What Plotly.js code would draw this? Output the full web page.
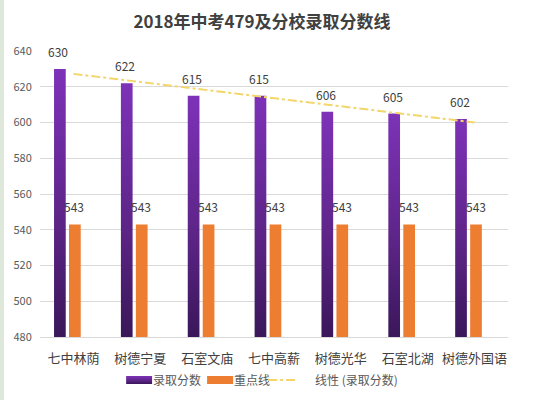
<!DOCTYPE html>
<html>
<head>
<meta charset="utf-8">
<script src="https://cdn.plot.ly/plotly-3.0.1.min.js"></script>
<style>
  html, body { margin: 0; padding: 0; background: #ffffff; }
  #chart { width: 538px; height: 400px; }
  #strip { position: absolute; left: 0; top: 0; width: 4px; height: 400px; background: #dde8da; }
</style>
</head>
<body>
<div id="chart"></div>
<div id="strip"></div>
<script>
const categories = ['七中林荫', '树德宁夏', '石室文庙', '七中高薪', '树德光华', '石室北湖', '树德外国语'];
const admissionScores = [630, 622, 615, 615, 606, 605, 602];
const keyLine = [543, 543, 543, 543, 543, 543, 543];
const trendValues = [627.2, 622.6, 618.1, 613.6, 609.0, 604.5, 600.0];
const yTicks = [480, 500, 520, 540, 560, 580, 600, 620, 640];

const seriesNames = ['录取分数', '重点线', '线性 (录取分数)'];
const labelFont = { family: 'Noto Sans CJK SC, sans-serif', size: 12, color: '#404040' };

const traces = [
  {
    type: 'bar', name: seriesNames[0], x: categories, y: admissionScores.map(v => v - 480), base: 480,
    width: 0.175, offset: -0.29,
    marker: { color: '#6a2a9a', line: { width: 0 } },
    hoverinfo: 'skip'
  },
  {
    type: 'bar', name: seriesNames[1], x: categories, y: keyLine.map(v => v - 480), base: 480,
    width: 0.175, offset: -0.066,
    marker: { color: '#ed7d31', line: { width: 0 } },
    hoverinfo: 'skip'
  },
  {
    type: 'scatter', mode: 'lines', name: seriesNames[2], x: categories, y: trendValues,
    line: { color: '#f3d56a', width: 2, dash: 'dashdot' },
    hoverinfo: 'skip'
  }
];

const annotations = [];
categories.forEach((c, i) => {
  annotations.push({
    x: c, y: admissionScores[i], xref: 'x', yref: 'y', text: String(admissionScores[i]),
    showarrow: false, yanchor: 'bottom', yshift: 7, xshift: -15, font: labelFont
  });
  annotations.push({
    x: c, y: keyLine[i], xref: 'x', yref: 'y', text: String(keyLine[i]),
    showarrow: false, yanchor: 'bottom', yshift: 7, xshift: 1, font: labelFont
  });
});

const layout = {
  width: 538, height: 400,
  margin: { l: 40, r: 30, t: 51, b: 63, autoexpand: false },
  paper_bgcolor: '#ffffff', plot_bgcolor: '#ffffff',
  title: {
    text: '<b>2018年中考479及分校录取分数线</b>',
    font: { family: 'Noto Sans CJK SC, sans-serif', size: 17, color: '#404040' },
    x: 0.487, xref: 'container', xanchor: 'center',
    y: 0.945, yref: 'container', yanchor: 'middle'
  },
  barmode: 'overlay',
  xaxis: {
    type: 'category', categoryorder: 'array', categoryarray: categories,
    showgrid: false, zeroline: false,
    showline: true, linecolor: '#d9d9d9', linewidth: 1,
    ticks: 'outside', ticklen: 9, tickcolor: 'rgba(0,0,0,0)',
    tickfont: { family: 'Noto Sans CJK SC, sans-serif', size: 13, color: '#404040' }
  },
  yaxis: {
    range: [480, 640], tickmode: 'array', tickvals: yTicks, ticktext: yTicks.map(String),
    showgrid: true, gridcolor: '#d9d9d9', gridwidth: 1, zeroline: false, showline: false,
    ticks: 'outside', ticklen: 5, tickcolor: 'rgba(0,0,0,0)',
    tickfont: { family: 'Noto Sans CJK SC, sans-serif', size: 11, color: '#595959' }
  },
  showlegend: true,
  legend: {
    orientation: 'h', x: 0.487, xref: 'container', xanchor: 'center',
    y: 0.05, yref: 'container', yanchor: 'middle',
    font: { family: 'Noto Sans CJK SC, sans-serif', size: 12, color: '#595959' },
    itemwidth: 30, tracegroupgap: 0
  },
  annotations: annotations
};

Plotly.newPlot('chart', traces, layout, { displayModeBar: false, staticPlot: true }).then(gd => {
  const svgNS = 'http://www.w3.org/2000/svg';
  const svg = gd.querySelector('svg.main-svg');
  let defs = svg.querySelector('defs');
  if (!defs) { defs = document.createElementNS(svgNS, 'defs'); svg.insertBefore(defs, svg.firstChild); }
  const grad = document.createElementNS(svgNS, 'linearGradient');
  grad.setAttribute('id', 'purpleGrad');
  grad.setAttribute('x1', '0'); grad.setAttribute('y1', '0');
  grad.setAttribute('x2', '0'); grad.setAttribute('y2', '1');
  [['0%', '#7d32b8'], ['55%', '#5e2589'], ['100%', '#3a175a']].forEach(([o, c]) => {
    const s = document.createElementNS(svgNS, 'stop');
    s.setAttribute('offset', o); s.setAttribute('stop-color', c);
    grad.appendChild(s);
  });
  defs.appendChild(grad);
  const barTraces = gd.querySelectorAll('.barlayer .trace');
  if (barTraces[0]) barTraces[0].querySelectorAll('path').forEach(p => { p.style.fill = 'url(#purpleGrad)'; });

  // Legend: Excel-like wide swatches, tightly packed entries, centred under the title.
  const legend = gd.querySelector('.legend');
  const items = gd.querySelectorAll('.legend .traces');
  const gaps = [6, 6, 0];
  let x = 0;
  const yPos = [];
  items.forEach((item, idx) => {
    const tr = item.getAttribute('transform') || '';
    const m = tr.match(/translate\(\s*([-\d.]+)[ ,]+([-\d.]+)/);
    yPos.push(m ? parseFloat(m[2]) : 0);
  });
  items.forEach((item, idx) => {
    if (idx < 2) {
      item.querySelectorAll('.legendpoints path').forEach(p => {
        p.setAttribute('d', 'M19,4H-7V-4H19Z');
        if (idx === 0) p.style.fill = 'url(#purpleGrad)';
      });
    }
    const txt = item.querySelector('text.legendtext');
    const tw = txt ? txt.getBBox().width : 40;
    item.setAttribute('transform', 'translate(' + (x - 13) + ',' + yPos[idx] + ')');
    const w = (idx < 2 ? 27 : 40) + tw;
    if (idx === 2) {
      if (txt) txt.setAttribute('x', 52);
    }
    x += w + gaps[idx];
  });
  const total = x - 13 + 12;
  const ltr = legend.getAttribute('transform') || '';
  const lm = ltr.match(/translate\(\s*([-\d.]+)[ ,]+([-\d.]+)/);
  const ly = lm ? parseFloat(lm[2]) : 370;
  legend.setAttribute('transform', 'translate(' + (262 - total / 2) + ',' + ly + ')');
  const bg = legend.querySelector('.bg');
  if (bg) bg.style.fill = 'rgba(0,0,0,0)';
});
</script>
</body>
</html>
